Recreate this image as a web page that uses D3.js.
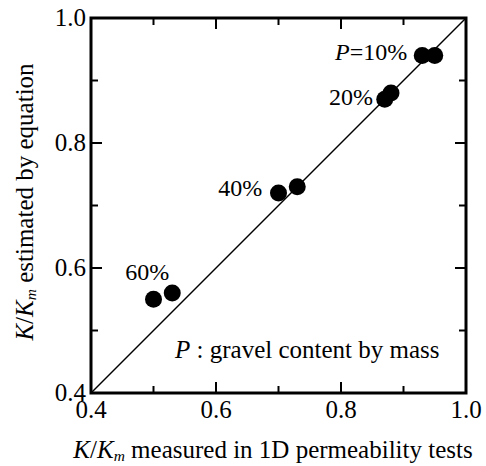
<!DOCTYPE html>
<html><head><meta charset="utf-8">
<script src="https://cdn.jsdelivr.net/npm/d3@7"></script>
<style>
body{margin:0;background:#fff;}
svg text{font-family:"Liberation Serif","Times New Roman","DejaVu Serif",serif;fill:#000;}
</style></head>
<body><svg id="c" width="486" height="466"></svg>
<script>
const measured  = [0.93, 0.95, 0.87, 0.88, 0.70, 0.73, 0.50, 0.53];
const estimated = [0.94, 0.94, 0.87, 0.88, 0.72, 0.73, 0.55, 0.56];
const groupLabels = ["10%", "20%", "40%", "60%"];
const labelX = [0.906, 0.851, 0.674, 0.525];
const labelY = [0.933, 0.861, 0.715, 0.581];
const majorTicks = [0.4, 0.6, 0.8, 1.0];
const minorTicks = [0.5, 0.7, 0.9];

const svg = d3.select("#c");
const L=91, R=466, T=18, B=393;
const x = d3.scaleLinear().domain([0.4,1.0]).range([L,R]);
const y = d3.scaleLinear().domain([0.4,1.0]).range([B,T]);
const FS = 25, FL = 24;

// diagonal 1:1 line
svg.append("line").attr("x1",x(0.4)).attr("y1",y(0.4)).attr("x2",x(1.0)).attr("y2",y(1.0))
  .attr("stroke","#000").attr("stroke-width",1.5);

// ticks inward on all sides
function ticks(vals, len){
  const g = svg.append("g").attr("stroke","#000").attr("stroke-width",2);
  vals.forEach(v=>{
    g.append("line").attr("x1",x(v)).attr("x2",x(v)).attr("y1",B).attr("y2",B-len);
    g.append("line").attr("x1",x(v)).attr("x2",x(v)).attr("y1",T).attr("y2",T+len);
    g.append("line").attr("y1",y(v)).attr("y2",y(v)).attr("x1",L).attr("x2",L+len);
    g.append("line").attr("y1",y(v)).attr("y2",y(v)).attr("x1",R).attr("x2",R-len);
  });
}
ticks(majorTicks.slice(1,3), 11);
ticks(minorTicks, 7);

// frame
svg.append("rect").attr("x",L).attr("y",T).attr("width",R-L).attr("height",B-T)
  .attr("fill","none").attr("stroke","#000").attr("stroke-width",3);

// tick labels
const fmt = d3.format(".1f");
svg.append("g").selectAll("text").data(majorTicks).join("text")
  .attr("x",d=>x(d)).attr("y",418).attr("text-anchor","middle")
  .attr("font-size",FS).text(fmt);
svg.append("g").selectAll("text").data(majorTicks).join("text")
  .attr("x",L-5).attr("y",d=>y(d)).attr("dy","0.33em").attr("text-anchor","end")
  .attr("font-size",FS).text(fmt);

// points
svg.append("g").selectAll("circle").data(measured).join("circle")
  .attr("cx",d=>x(d)).attr("cy",(d,i)=>y(estimated[i])).attr("r",8.5).attr("fill","#000");

// group labels
const gl = svg.append("g");
groupLabels.forEach((s,i)=>{
  const t = gl.append("text").attr("x",x(labelX[i])).attr("y",y(labelY[i]))
    .attr("text-anchor","end").attr("font-size",FL);
  if(i===0){ t.append("tspan").attr("font-style","italic").text("P"); t.append("tspan").text("="+s); }
  else t.text(s);
});

// note
const note = svg.append("text").attr("x",175).attr("y",358).attr("font-size",FS);
note.append("tspan").attr("font-style","italic").text("P");
note.append("tspan").text(" : gravel content by mass");

// x title
const xt = svg.append("text").attr("x",273).attr("y",458).attr("text-anchor","middle").attr("font-size",FS);
xt.append("tspan").attr("font-style","italic").text("K");
xt.append("tspan").text("/");
xt.append("tspan").attr("font-style","italic").text("K");
xt.append("tspan").attr("font-style","italic").attr("font-size",FS*0.62).attr("dy",3).text("m");
xt.append("tspan").attr("dy",-3).text(" measured in 1D permeability tests");

// y title
const yt = svg.append("text").attr("transform",`translate(33,202) rotate(-90)`)
  .attr("text-anchor","middle").attr("font-size",FS);
yt.append("tspan").attr("font-style","italic").text("K");
yt.append("tspan").text("/");
yt.append("tspan").attr("font-style","italic").text("K");
yt.append("tspan").attr("font-style","italic").attr("font-size",FS*0.62).attr("dy",3).text("m");
yt.append("tspan").attr("dy",-3).text(" estimated by equation");
</script></body></html>
